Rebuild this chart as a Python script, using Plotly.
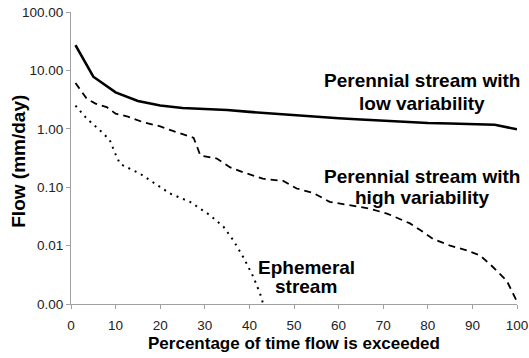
import plotly.graph_objects as go

# Perennial stream with low variability
low_x = [1, 5, 10, 15, 20, 25, 30, 35, 40, 45, 50, 55, 60, 65, 70, 75, 80, 85, 90, 95, 100]
low_y = [27, 7.8, 4.2, 3.0, 2.5, 2.27, 2.18, 2.1, 1.95, 1.82, 1.72, 1.62, 1.52, 1.44, 1.37, 1.31, 1.26, 1.23, 1.20, 1.17, 0.98]

# Perennial stream with high variability
high_x = [1, 3.5, 5.5, 8, 10, 12.5, 16, 20, 23, 26.7, 27.5, 29, 32.7, 35.6, 38.6, 43, 47.6, 50.6, 54.3, 58, 62.6, 67, 71, 76, 79, 81.2, 85, 88.7, 91.7, 94.6, 97.7, 99.5, 100]
high_y = [6.1, 3.3, 2.7, 2.36, 1.82, 1.64, 1.31, 1.10, 0.91, 0.74, 0.70, 0.35, 0.31, 0.22, 0.18, 0.14, 0.128, 0.095, 0.08, 0.056, 0.049, 0.043, 0.035, 0.024, 0.017, 0.013, 0.010, 0.0083, 0.0068, 0.0043, 0.0025, 0.0013, 0.0011]

# Ephemeral stream
eph_x = [1, 3.5, 6.5, 8.7, 9.9, 11, 15.5, 20.7, 22.2, 26.7, 31.2, 34.2, 36.4, 38.6, 40.9, 42.4, 43.1]
eph_y = [2.5, 1.5, 0.94, 0.64, 0.38, 0.25, 0.17, 0.095, 0.078, 0.056, 0.033, 0.021, 0.0123, 0.0064, 0.0029, 0.0015, 0.001]

y_tickvals = [0.001, 0.01, 0.1, 1, 10, 100]
y_ticktext = ["0.00", "0.01", "0.10", "1.00", "10.00", "100.00"]
x_tickvals = [0, 10, 20, 30, 40, 50, 60, 70, 80, 90, 100]

# curve labels: (text, x, log10 y)
labels = [
    ("Perennial stream with", 78.7, 0.83),
    ("low variability", 78.7, 0.437),
    ("Perennial stream with", 78.7, -0.813),
    ("high variability", 78.7, -1.173),
    ("Ephemeral", 52.7, -2.37),
    ("stream", 52.7, -2.70),
]

font = "Liberation Sans, Arial, sans-serif"

fig = go.Figure()
fig.add_trace(go.Scatter(x=low_x, y=low_y, mode="lines",
                         line=dict(color="black", width=2.6), showlegend=False))
fig.add_trace(go.Scatter(x=high_x, y=high_y, mode="lines",
                         line=dict(color="black", width=1.8, dash="7px,5px"), showlegend=False))
fig.add_trace(go.Scatter(x=eph_x, y=eph_y, mode="lines",
                         line=dict(color="black", width=2, dash="2px,5px"), showlegend=False))

ann_font = dict(family=font, size=19, color="black")
for txt, lx, ly in labels:
    fig.add_annotation(x=lx, y=ly, xref="x", yref="y", showarrow=False,
                       text="<b>" + txt + "</b>", font=ann_font, align="center")

# y-axis title placed as a rotated annotation
fig.add_annotation(x=-0.117, y=0.49, xref="paper", yref="paper", showarrow=False,
                   xanchor="center", yanchor="middle", textangle=-90,
                   text="<b>Flow (mm/day)</b>", font=dict(family=font, size=19, color="black"))

fig.update_layout(
    template="none",
    width=529, height=358,
    margin=dict(l=71, r=12, t=12, b=54),
    plot_bgcolor="white", paper_bgcolor="white",
    font=dict(family=font, size=13.5, color="#222"),
    xaxis=dict(range=[0, 100], tickvals=x_tickvals, showgrid=False, zeroline=False,
               automargin=False,
               showline=True, linecolor="#a0a0a0", linewidth=1,
               ticks="outside", ticklen=4, tickcolor="#a0a0a0",
               ticklabelstandoff=5,
               tickfont=dict(size=13.5, color="#222"),
               title=dict(text="<b>Percentage of time flow is exceeded</b>",
                          font=dict(size=17, color="black"), standoff=4)),
    yaxis=dict(type="log", range=[-3, 2], tickvals=y_tickvals, ticktext=y_ticktext,
               showgrid=False, zeroline=False, automargin=False,
               showline=True, linecolor="#a0a0a0", linewidth=1,
               ticks="outside", ticklen=4, tickcolor="#a0a0a0",
               tickfont=dict(size=13.5, color="#222")),
)

fig.write_html("out.html")
